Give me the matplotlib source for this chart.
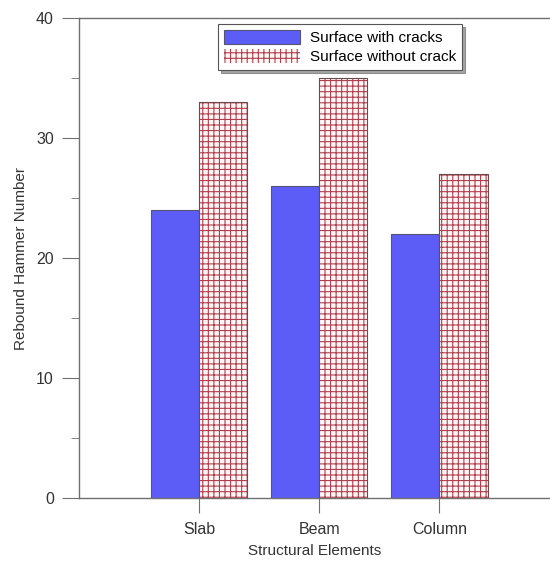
import numpy as np
import matplotlib
matplotlib.use('Agg')
import matplotlib.pyplot as plt

plt.rcParams['font.family'] = ['Liberation Sans', 'DejaVu Sans']
plt.rcParams['hatch.linewidth'] = 0.8

elements = ['Slab', 'Beam', 'Column']
with_cracks = [24, 26, 22]
without_crack = [33, 35, 27]

x = np.arange(1, len(elements) + 1)
w = 0.4
grey = '#707070'

fig = plt.figure(figsize=(5.5, 5.65), dpi=100)
ax = fig.add_axes([0.1436, 0.1186, 0.8564, 0.8495])

b1 = ax.bar(x - w/2, with_cracks, w, color='#5c5cf6', edgecolor='#555577', linewidth=0.8,
            label='Surface with cracks')
b2 = ax.bar(x + w/2, without_crack, w, color='#fff6f6', edgecolor='#b04050', hatch='+++',
            linewidth=0, label='Surface without crack')
ax.bar(x + w/2, without_crack, w, color='none', edgecolor='#6a4a4a', linewidth=0.8)

ax.set_xlim(0, 3.92)
ax.set_ylim(0, 40)
ax.set_yticks([0, 10, 20, 30, 40])
ax.set_yticks([5, 15, 25, 35], minor=True)
ax.set_xticks(x)
ax.set_xticklabels(elements)

for s in ['left', 'top', 'bottom']:
    ax.spines[s].set_color(grey)
    ax.spines[s].set_linewidth(1.0)
ax.spines['right'].set_visible(False)
ax.tick_params(axis='y', which='major', length=12, color=grey, labelsize=11.5, labelcolor='#333333', pad=6)
ax.tick_params(axis='y', which='minor', length=6, color=grey)
ax.tick_params(axis='x', length=11, color=grey, labelsize=11.5, labelcolor='#333333', pad=6)

ax.set_xlabel('Structural Elements', fontsize=11, color='#333333', labelpad=5)
ax.set_ylabel('Rebound Hammer Number', fontsize=11, color='#333333', labelpad=6)

leg = ax.legend(handles=[b1, b2], loc='upper left', bbox_to_anchor=(0.295, 0.9875),
                fancybox=False, shadow=True, fontsize=11, handlelength=5.0, handleheight=1.0,
                borderaxespad=0, frameon=True, framealpha=1, borderpad=0.4, labelspacing=0.25,
                handletextpad=0.6)
leg.get_frame().set_edgecolor('#555555')
leg.get_frame().set_linewidth(0.8)

plt.savefig('out.png', dpi=100)
